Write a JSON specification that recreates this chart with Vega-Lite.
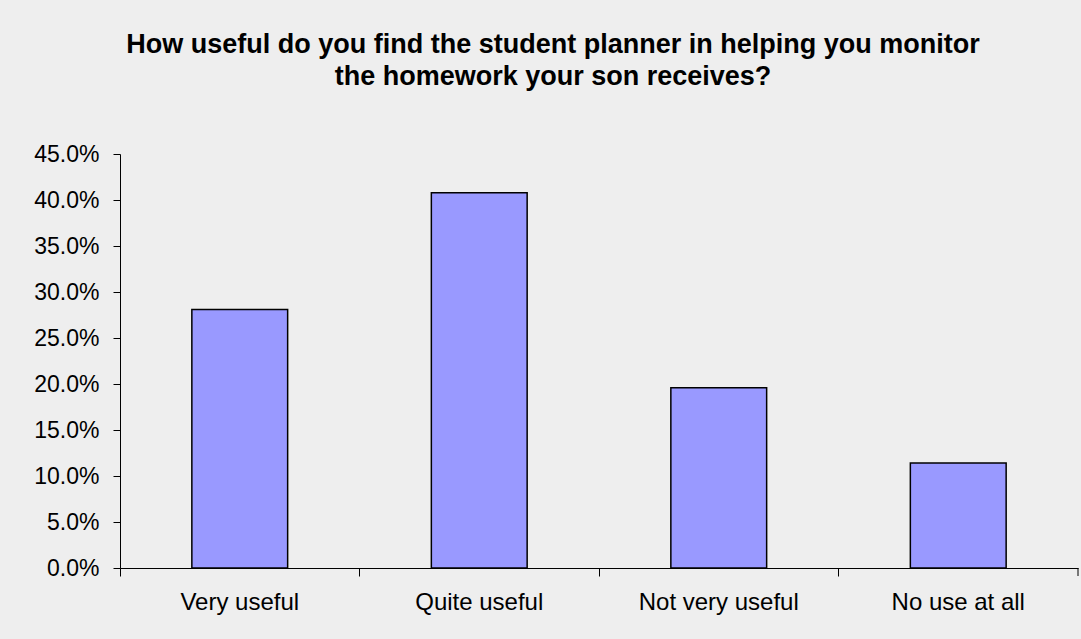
{
  "$schema": "https://vega.github.io/schema/vega-lite/v6.json",
  "autosize": {"type": "none"},
  "width": 958,
  "height": 414,
  "padding": {"left": 120, "top": 154, "right": 3, "bottom": 71},
  "background": "#EEEEEE",
  "title": {
    "text": ["How useful do you find the student planner in helping you monitor", "the homework your son receives?"],
    "font": "Liberation Sans",
    "fontSize": 27,
    "fontWeight": "bold",
    "color": "black",
    "anchor": "middle",
    "frame": "group",
    "dx": -46,
    "lineHeight": 32,
    "baseline": "bottom",
    "offset": 25
  },
  "data": {
    "values": [
      {"response": "Very useful", "share": 0.281},
      {"response": "Quite useful", "share": 0.408},
      {"response": "Not very useful", "share": 0.196},
      {"response": "No use at all", "share": 0.114}
    ]
  },
  "layer": [
    {
      "mark": {"type": "bar", "fill": "#9999FF", "stroke": "black", "strokeWidth": 1.5, "width": {"band": 0.4}},
      "encoding": {
        "x": {
          "field": "response",
          "type": "nominal",
          "sort": null,
          "scale": {"paddingInner": 0, "paddingOuter": 0},
          "axis": {
            "title": null,
            "bandPosition": 0,
            "labelAngle": 0,
            "tickSize": 8,
            "domainColor": "black",
            "tickColor": "black",
            "labelFont": "Liberation Sans",
            "labelFontSize": 24,
            "labelColor": "black",
            "labelPadding": 14
          }
        },
        "y": {
          "field": "share",
          "type": "quantitative",
          "scale": {"domain": [0, 0.45], "nice": false},
          "axis": {
            "title": null,
            "format": ".1%",
            "values": [0, 0.05, 0.1, 0.15, 0.2, 0.25, 0.3, 0.35, 0.4, 0.45],
            "tickSize": 7,
            "labelPadding": 14,
            "labelFont": "Liberation Sans",
            "labelFontSize": 23,
            "labelColor": "black",
            "domainColor": "black",
            "tickColor": "black",
            "grid": false
          }
        }
      }
    },
    {
      "transform": [{"filter": "datum.response === 'No use at all'"}],
      "mark": {"type": "rule", "color": "black", "y2Offset": 8},
      "encoding": {
        "x": {"field": "response", "type": "nominal", "sort": null, "bandPosition": 1},
        "y": {"datum": 0},
        "y2": {"datum": 0}
      }
    }
  ],
  "config": {"view": {"stroke": null}}
}
